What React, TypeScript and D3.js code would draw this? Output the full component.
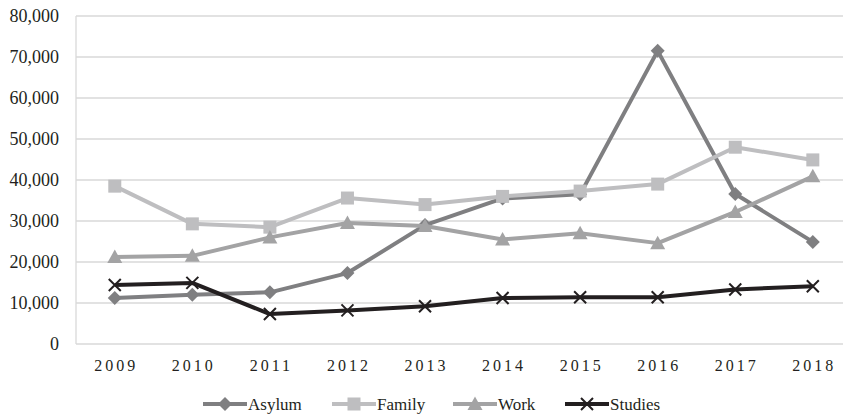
import React from "react";
import * as d3 from "d3";

const years = ["2009", "2010", "2011", "2012", "2013", "2014", "2015", "2016", "2017", "2018"];
const asylum = [11200, 12000, 12600, 17300, 29000, 35500, 36500, 71500, 36600, 24900];
const family = [38500, 29300, 28500, 35600, 34000, 36000, 37300, 39000, 48000, 44900];
const work = [21200, 21500, 26000, 29500, 28800, 25500, 27000, 24600, 32200, 40900];
const studies = [14400, 14900, 7300, 8200, 9200, 11200, 11400, 11400, 13300, 14100];
const yTicks = [0, 10000, 20000, 30000, 40000, 50000, 60000, 70000, 80000];

type Series = { name: string; values: number[]; color: string; marker: string };
const series: Series[] = [
  { name: "Asylum", values: asylum, color: "#7f7f81", marker: "diamond" },
  { name: "Family", values: family, color: "#bebec0", marker: "square" },
  { name: "Work", values: work, color: "#a3a3a4", marker: "triangle" },
  { name: "Studies", values: studies, color: "#231f20", marker: "x" },
];

const W = 843, H = 415;
const left = 76, top = 16, bottom = 344;
const bandW = 77.56;
const FONT = "'Liberation Serif', 'Times New Roman', serif";

function Marker({ type, x, y, color }: { type: string; x: number; y: number; color: string }) {
  if (type === "diamond") {
    const s = 7;
    return <path d={`M${x},${y - s}L${x + s},${y}L${x},${y + s}L${x - s},${y}Z`} fill={color} />;
  }
  if (type === "square") {
    const s = 6.5;
    return <rect x={x - s} y={y - s} width={2 * s} height={2 * s} fill={color} />;
  }
  if (type === "triangle") {
    const s = 7.5;
    return <path d={`M${x},${y - s}L${x + s},${y + s * 0.8}L${x - s},${y + s * 0.8}Z`} fill={color} />;
  }
  const s = 6;
  return (
    <path d={`M${x - s},${y - s}L${x + s},${y + s}M${x - s},${y + s}L${x + s},${y - s}`} stroke={color} strokeWidth={2} fill="none" />
  );
}

export default function App() {
  const x = d3.scaleBand<string>().domain(years).range([left, left + bandW * years.length]);
  const y = d3.scaleLinear().domain([0, 80000]).range([bottom, top]);
  const fmt = d3.format(",");
  const line = d3
    .line<number>()
    .x((_, i) => (x(years[i]) as number) + x.bandwidth() / 2)
    .y((v) => y(v));

  const legendItems = [
    { s: series[0], lx: 203 },
    { s: series[1], lx: 332 },
    { s: series[2], lx: 453 },
    { s: series[3], lx: 565 },
  ];

  return (
    <svg width={W} height={H} style={{ position: "absolute", left: 0, top: 0, fontFamily: FONT }}>
      <rect width={W} height={H} fill="#fff" />
      {yTicks.map((t) => (
        <g key={t}>
          <line x1={left} x2={W} y1={y(t)} y2={y(t)} stroke="#d9d9d9" strokeWidth={1.3} />
          <text x={59} y={y(t) + 6} textAnchor="end" fontSize={18} fill="#231f20" style={{ fontFamily: FONT }}>
            {fmt(t)}
          </text>
        </g>
      ))}
      <line x1={left} x2={left} y1={top} y2={bottom} stroke="#d9d9d9" strokeWidth={1.3} />
      {years.map((yr) => (
        <text
          key={yr}
          x={(x(yr) as number) + x.bandwidth() / 2 + 1.5}
          y={371}
          textAnchor="middle"
          fontSize={16}
          letterSpacing={3}
          fill="#231f20"
          style={{ fontFamily: FONT }}
        >
          {yr}
        </text>
      ))}
      {series.map((s) => (
        <g key={s.name}>
          <path d={line(s.values) || ""} fill="none" stroke={s.color} strokeWidth={4} strokeLinejoin="round" />
          {s.values.map((v, i) => (
            <Marker key={i} type={s.marker} x={(x(years[i]) as number) + x.bandwidth() / 2} y={y(v)} color={s.color} />
          ))}
        </g>
      ))}
      {legendItems.map(({ s, lx }) => (
        <g key={s.name}>
          <line x1={lx} x2={lx + 44} y1={404} y2={404} stroke={s.color} strokeWidth={4} />
          <Marker type={s.marker} x={lx + 22} y={404} color={s.color} />
          <text x={lx + 45} y={410} fontSize={17} fill="#231f20" style={{ fontFamily: FONT }}>
            {s.name}
          </text>
        </g>
      ))}
    </svg>
  );
}
